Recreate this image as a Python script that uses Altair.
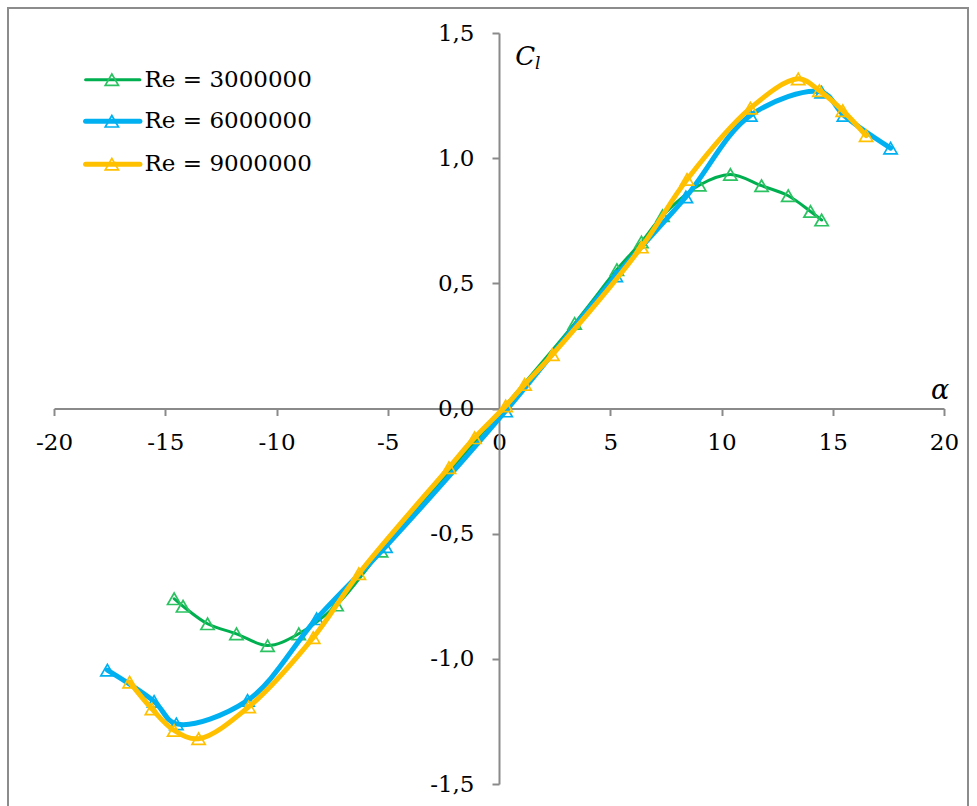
import altair as alt
import pandas as pd

# ---------------- data ----------------
series_names = ["Re = 3000000", "Re = 6000000", "Re = 9000000"]

alpha_re3 = [-14.6, -14.2, -13.1, -11.8, -10.4, -9.0, -7.3, -5.3, 3.4, 5.3, 6.4, 7.35, 9.0, 10.4, 11.8, 13.0, 14.0, 14.5]
cl_re3 = [-0.76, -0.79, -0.86, -0.90, -0.947, -0.90, -0.785, -0.57, 0.34, 0.555, 0.665, 0.77, 0.892, 0.935, 0.89, 0.85, 0.787, 0.753]

alpha_re6 = [-17.6, -15.5, -14.5, -11.3, -8.2, -5.1, 0.3, 5.25, 8.4, 11.3, 14.5, 15.5, 17.6]
cl_re6 = [-1.045, -1.17, -1.26, -1.166, -0.84, -0.552, -0.01, 0.53, 0.845, 1.171, 1.264, 1.171, 1.04]

alpha_re9 = [-16.6, -15.6, -14.6, -13.5, -11.25, -8.35, -6.3, -2.25, -1.1, 0.3, 1.15, 2.4, 6.4, 8.45, 11.3, 13.45, 14.4, 15.45, 16.5]
cl_re9 = [-1.093, -1.2, -1.286, -1.319, -1.192, -0.915, -0.66, -0.236, -0.117, 0.01, 0.096, 0.215, 0.645, 0.915, 1.2, 1.317, 1.27, 1.19, 1.09]

x_ticks = [-20, -15, -10, -5, 0, 5, 10, 15, 20]
y_ticks = [-1.5, -1.0, -0.5, 0.0, 0.5, 1.0, 1.5]

# ---------------- styles ----------------
line_colors = ["#00B050", "#00B0F0", "#FFC000"]
marker_colors = ["#2CC262", "#00B0F0", "#FFC000"]
line_widths = [3, 5, 5]

W, H = 890, 751
X_DOMAIN = [-20, 20]
Y_DOMAIN = [-1.5, 1.5]
FONT = "DejaVu Serif"
AXIS_GRAY = "#8a8a8a"
MARKER_SIZE = 175

x_label_expr = "datum.value < 0 ? '-' + format(-datum.value, 'd') : format(datum.value, 'd')"
y_label_expr = "(datum.value < 0 ? '-' : '') + replace(format(abs(datum.value), '.1f'), '.', ',')"

x_axis = alt.Axis(
    values=x_ticks, orient="bottom", offset=-(H / 2), title=None, grid=False,
    domainColor=AXIS_GRAY, domainWidth=2, tickColor=AXIS_GRAY, tickWidth=2, tickSize=7,
    labelFont=FONT, labelFontSize=23, labelColor="black", labelPadding=16,
    labelExpr=x_label_expr, labelOverlap=False, labelFlush=False,
)
y_axis = alt.Axis(
    values=y_ticks, orient="left", offset=-(W / 2), title=None, grid=False,
    domainColor=AXIS_GRAY, domainWidth=2, tickColor=AXIS_GRAY, tickWidth=2, tickSize=7,
    labelFont=FONT, labelFontSize=23, labelColor="black", labelPadding=18,
    labelExpr=y_label_expr, labelOverlap=False, labelFlush=False,
)

x_scale = alt.Scale(domain=X_DOMAIN, nice=False, zero=False)
y_scale = alt.Scale(domain=Y_DOMAIN, nice=False, zero=False)


def X(field="alpha"):
    return alt.X(f"{field}:Q", scale=x_scale, axis=x_axis)


def Y(field="cl"):
    return alt.Y(f"{field}:Q", scale=y_scale, axis=y_axis)


series_data = [
    (alpha_re3, cl_re3),
    (alpha_re6, cl_re6),
    (alpha_re9, cl_re9),
]

layers = []

# outer frame (decoration)
frame = alt.Chart(pd.DataFrame({"d": [0]})).mark_rect(
    fillOpacity=0, stroke="#8c8c8c", strokeWidth=2
).encode(x=alt.value(-46), x2=alt.value(914), y=alt.value(-25), y2=alt.value(790))
layers.append(frame)

for i, (a, c) in enumerate(series_data):
    df = pd.DataFrame({"alpha": a, "cl": c, "series": series_names[i]})
    base = alt.Chart(df)
    line = base.mark_line(
        color=line_colors[i], strokeWidth=line_widths[i], interpolate="catmull-rom",
        strokeCap="round", strokeJoin="round",
    ).encode(x=X(), y=Y())
    pts = base.mark_point(
        shape="triangle-up", filled=False, size=MARKER_SIZE, strokeWidth=1.7,
        color=marker_colors[i], opacity=1,
    ).encode(x=X(), y=Y())
    layers += [line, pts]

# manual legend (in data units)
leg_y = [1.3135, 1.1474, 0.976]
leg_df = pd.DataFrame({
    "series": series_names,
    "y": leg_y,
    "x0": [-18.58] * 3,
    "x1": [-16.14] * 3,
    "xm": [-17.40] * 3,
    "xt": [-15.93] * 3,
})
for i in range(3):
    d = leg_df.iloc[[i]]
    lb = alt.Chart(d)
    layers.append(
        lb.mark_rule(color=line_colors[i], strokeWidth=line_widths[i], strokeCap="round")
        .encode(x=X("x0"), x2="x1:Q", y=Y("y"))
    )
    layers.append(
        lb.mark_point(shape="triangle-up", filled=False, size=MARKER_SIZE, strokeWidth=1.7,
                      color=marker_colors[i], opacity=1)
        .encode(x=X("xm"), y=Y("y"))
    )
    layers.append(
        lb.mark_text(align="left", baseline="middle", font=FONT, fontSize=23, color="black")
        .encode(x=X("xt"), y=Y("y"), text="series:N")
    )

# axis titles
ann = pd.DataFrame({
    "x": [1.18, 1.74, 19.82],
    "y": [1.404, 1.376, 0.07],
    "t": ["C", "l", "α"],
    "s": [26, 17, 27],
})
for j in range(3):
    layers.append(
        alt.Chart(ann.iloc[[j]]).mark_text(
            align="center", baseline="middle", font=FONT, fontStyle="italic",
            fontSize=int(ann["s"][j]), color="black",
        ).encode(x=X("x"), y=Y("y"), text="t:N")
    )

chart = alt.layer(*layers).properties(
    width=W, height=H,
    padding={"left": 54, "top": 33, "right": 33, "bottom": 22},
    autosize=alt.AutoSizeParams(type="none"),
    background="white",
).configure_view(strokeWidth=0)

chart.save("out.html", embed_options={"renderer": "svg", "actions": False})
